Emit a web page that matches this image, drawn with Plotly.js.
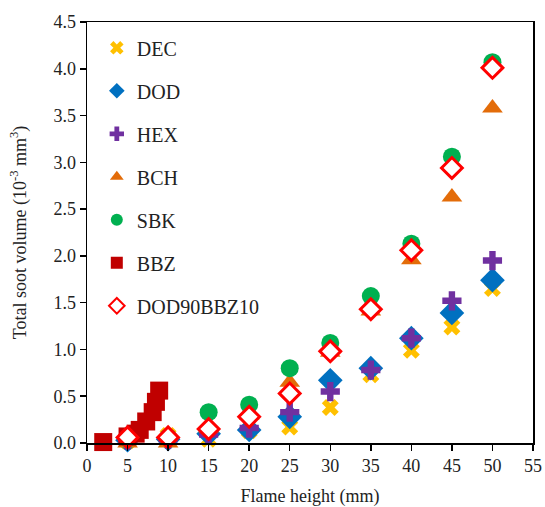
<!DOCTYPE html>
<html>
<head>
<meta charset="utf-8">
<script src="https://cdn.plot.ly/plotly-3.0.1.min.js"></script>
<style>html,body{margin:0;padding:0;background:#fff;}#chart{width:545px;height:507px;}</style>
</head>
<body>
<div id="chart"></div>
<script>
const heights = [5, 10, 15, 20, 25, 30, 35, 40, 45, 50];
const DEC = [0.02, 0.08, 0.04, 0.13, 0.17, 0.38, 0.73, 0.99, 1.24, 1.65];
const DOD = [0.03, 0.04, 0.10, 0.14, 0.28, 0.67, 0.80, 1.12, 1.39, 1.74];
const HEX = [0.03, 0.04, 0.09, 0.16, 0.33, 0.55, 0.78, 1.12, 1.52, 1.95];
const BCH = [0.00, 0.00, 0.16, 0.30, 0.65, 0.97, 1.41, 1.96, 2.63, 3.58];
const SBK = [0.05, 0.06, 0.33, 0.41, 0.80, 1.07, 1.57, 2.13, 3.06, 4.07];
const DOD90BBZ10 = [0.06, 0.06, 0.15, 0.28, 0.53, 0.98, 1.43, 2.06, 2.94, 4.01];
const BBZ_x = [2, 5, 6, 6.5, 7.3, 8.1, 8.5, 8.9];
const BBZ_y = [0.01, 0.07, 0.10, 0.14, 0.23, 0.33, 0.44, 0.56];

const font = "Liberation Serif, Times New Roman, serif";
function tr(name, x, y, marker, g) {
  return {type: 'scatter', mode: 'markers', name: name, x: x, y: y, marker: marker,
          legendgroup: g, cliponaxis: false};
}
const data = [
  tr('DEC', heights, DEC, {symbol: 'x', size: 15, color: '#FFC000'}, 'a'),
  tr('DOD', heights, DOD, {symbol: 'diamond', size: 19, color: '#0070C0'}, 'b'),
  tr('HEX', heights, HEX, {symbol: 'cross', size: 16, color: '#7030A0'}, 'c'),
  tr('BCH', heights, BCH, {symbol: 'triangle-up', size: 18, color: '#E36C09'}, 'd'),
  tr('SBK', heights, SBK, {symbol: 'circle', size: 18, color: '#00B050'}, 'e'),
  tr('BBZ', BBZ_x, BBZ_y, {symbol: 'square', size: 18, color: '#C00000'}, 'f'),
  tr('DOD90BBZ10', heights, DOD90BBZ10, {symbol: 'diamond', size: 16, color: '#FFFFFF', line: {color: '#FF0000', width: 3}}, 'g')
];

const layout = {
  width: 545, height: 507,
  margin: {l: 87, r: 12, t: 22, b: 64},
  paper_bgcolor: '#fff', plot_bgcolor: '#fff',
  font: {family: font, size: 18, color: '#222'},
  showlegend: true,
  legend: {x: 0.022, y: 0.985, xanchor: 'left', yanchor: 'top', bgcolor: 'rgba(0,0,0,0)',
           font: {family: font, size: 20, color: '#222'}, tracegroupgap: 14, itemsizing: 'constant'},
  xaxis: {range: [0, 55], tickvals: [0,5,10,15,20,25,30,35,40,45,50,55], ticks: 'outside', ticklen: 6,
          tickwidth: 1.5, tickcolor: '#000', showline: true, linecolor: '#000', linewidth: 1.5, mirror: true,
          showgrid: false, zeroline: false, tickfont: {family: font, size: 18, color: '#222'},
          title: {text: 'Flame height (mm)', font: {family: font, size: 18, color: '#222'}, standoff: 15}},
  yaxis: {range: [0, 4.5], tickvals: [0,0.5,1,1.5,2,2.5,3,3.5,4,4.5], ticktext: ['0.0','0.5','1.0','1.5','2.0','2.5','3.0','3.5','4.0','4.5'],
          ticks: 'outside', ticklen: 6, tickwidth: 1.5, tickcolor: '#000', showline: true, linecolor: '#000',
          linewidth: 1.5, mirror: true, showgrid: false, zeroline: false,
          tickfont: {family: font, size: 18, color: '#222'},
          title: {text: 'Total soot volume (10<sup>-3</sup> mm<sup>3</sup>)', font: {family: font, size: 18, color: '#222'}, standoff: 22}}
};
Plotly.newPlot('chart', data, layout, {displayModeBar: false, staticPlot: true});
</script>
</body>
</html>
